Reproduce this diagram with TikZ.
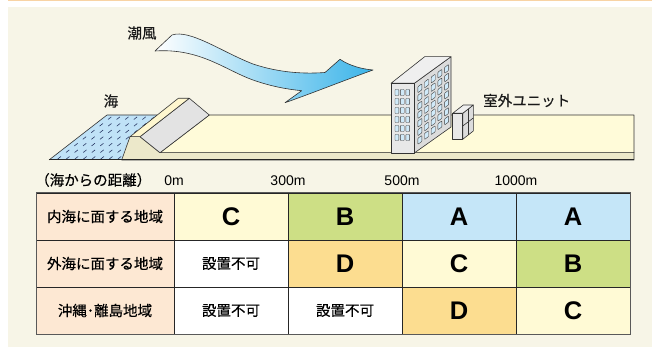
\documentclass[tikz,border=0pt]{standalone}
\usepackage{fontspec}
\setmainfont{Liberation Sans}
\newfontfamily\cjk{Noto Sans CJK JP}[FakeBold=0.35]
\usetikzlibrary{positioning}

\definecolor{bgbeige}{HTML}{F7F5E7}
\definecolor{topline}{HTML}{F8D3A4}
\definecolor{seablue}{HTML}{C0E2F7}
\definecolor{seadash}{HTML}{2B3A66}
\definecolor{sandtop}{HTML}{FFFBD9}
\definecolor{sandfront}{HTML}{ECE8CA}
\definecolor{ridgetop}{HTML}{FFF7CF}
\definecolor{slopegrey}{HTML}{E3E3E3}
\definecolor{bldfront}{HTML}{E8E8E8}
\definecolor{bldside}{HTML}{DCDCDC}
\definecolor{bldtop}{HTML}{EFEFEF}
\definecolor{winblue}{HTML}{D0EAF9}
\definecolor{windblue}{HTML}{3BB4E9}
\definecolor{areapeach}{HTML}{FDE8D3}
\definecolor{gradeA}{HTML}{C5E6F8}
\definecolor{gradeB}{HTML}{CDDF85}
\definecolor{gradeC}{HTML}{FFFAD5}
\definecolor{gradeD}{HTML}{FCDD90}

\newcommand{\jpfont}{\cjk\fontsize{14.5}{17}\selectfont}
\newcommand{\gradefont}{\bfseries\fontsize{25.5}{28}\selectfont}

\begin{document}
\begin{tikzpicture}[x=1pt, y=-1pt,
    edgeline/.style={draw=black!80, line width=0.6pt, line join=round},
    window/.style={draw=black!75, line width=0.4pt, fill=winblue, rounded corners=0.6pt},
    jptext/.style={inner sep=0pt, font=\jpfont, text=black!90},
    cell/.style={rectangle, draw=black!85, line width=0.7pt, minimum width=114pt, minimum height=47pt, inner sep=0pt, outer sep=0pt},
    area/.style={cell, fill=areapeach, minimum width=138pt, font=\jpfont},
    grade/.style={cell, font=\gradefont},
    nogo/.style={cell, fill=white, font=\jpfont},
    dist/.style={anchor=base, yshift=7.5pt, inner sep=0pt, font=\fontsize{14}{16}\selectfont}
]
\useasboundingbox (0,0) rectangle (652,347);

% panel
\fill[bgbeige] (8,7) rectangle (652,347);
\fill[topline] (8,0) rectangle (652,1.4);

% sea
\fill[seablue] (49,160) -- (107,115) -- (157.3,115) -- (130,136.7) -- (121.7,160) -- cycle;
\begin{scope}
  \clip (50,159) -- (107.5,116) -- (156,116) -- (129.5,137) -- (121,159) -- cycle;
  \foreach \row in {0,...,6}
    \foreach \col in {0,...,9}
      \draw[seadash, line width=0.6pt] ({108+8.6*\col-8.4*\row},{119.5+6.6*\row}) -- +(3.3,-2.6);
\end{scope}
\draw[edgeline] (49,160) -- (107,115) -- (157.3,115);

% ground and dike
\filldraw[edgeline, fill=sandfront] (121.7,160) -- (130,136.7) -- (140,136.7) -- (160,152.7) -- (634,152.7) -- (634,160) -- cycle;
\filldraw[edgeline, fill=sandtop] (160,152.7) -- (209.3,115) -- (634,115) -- (634,152.7) -- cycle;
\filldraw[edgeline, fill=slopegrey] (140,136.7) -- (189.3,98.3) -- (209.3,115) -- (160,152.7) -- cycle;
\filldraw[edgeline, fill=ridgetop] (130,136.7) -- (178.3,98.3) -- (189.3,98.3) -- (140,136.7) -- cycle;
\draw[black!85, line width=1pt] (49,160) -- (634,160);

% building
\filldraw[edgeline, fill=bldside] (414.3,83.3) -- (451,56.7) -- (451,127) -- (414.3,153) -- cycle;
\filldraw[edgeline, fill=bldtop] (391,83.3) -- (424.7,56.7) -- (451,56.7) -- (414.3,83.3) -- cycle;
\filldraw[edgeline, fill=bldfront] (391,83.3) rectangle (414.3,153);
\foreach \col in {0,1,2}
  \foreach \row in {0,...,5}
    \filldraw[window] ({395+5.4*\col},{89.5+9*\row}) rectangle +(3.8,6);
\begin{scope}[shift={(414.3,83.3)}, yslant=0.725]
  \foreach \col in {0,...,4}
    \foreach \row in {0,...,6}
      \filldraw[window] ({3.5+6.7*\col},{6+8.6*\row}) rectangle +(4,6);
\end{scope}

% outdoor unit
\filldraw[edgeline, fill=bldside] (462.7,113.3) -- (473.3,105) -- (473.3,131) -- (462.7,139.3) -- cycle;
\filldraw[edgeline, fill=bldtop] (452.7,113.3) -- (463.3,105) -- (473.3,105) -- (462.7,113.3) -- cycle;
\filldraw[edgeline, fill=bldfront] (452.7,113.3) rectangle (462.7,139.3);
\draw[edgeline] (468,109) -- (468,135.1);
\draw[edgeline] (462.7,126) -- (473.3,118);

% sea breeze
\shadedraw[edgeline, left color=white, right color=windblue]
  (155,51) -- (172,35) .. controls (190,29) and (222,52) .. (253,64)
  .. controls (280,73) and (305,74) .. (325,72.5) -- (340,59.3)
  .. controls (350,66) and (362,69) .. (373,70)
  .. controls (340,82) and (310,94) .. (285,102.7) -- (301.7,90.7)
  .. controls (285,89) and (270,86) .. (253,80)
  .. controls (225,70) and (200,48) .. (155,51) -- cycle;

\node[jptext] (wind) at (142,33) {潮風};
\node[jptext] (sea) at (111,101) {海};
\node[jptext, anchor=west] (unit) at (483,100.5) {室外ユニット};

% grade table
\node[area] (inland) at (105,216.5) {内海に面する地域};
\node[grade, fill=gradeC, right=0pt of inland] (inland1) {C};
\node[grade, fill=gradeB, right=0pt of inland1] (inland2) {B};
\node[grade, fill=gradeA, right=0pt of inland2] (inland3) {A};
\node[grade, fill=gradeA, right=0pt of inland3] (inland4) {A};

\node[area, below=0pt of inland] (outer) {外海に面する地域};
\node[nogo, right=0pt of outer] (outer1) {設置不可};
\node[grade, fill=gradeD, right=0pt of outer1] (outer2) {D};
\node[grade, fill=gradeC, right=0pt of outer2] (outer3) {C};
\node[grade, fill=gradeB, right=0pt of outer3] (outer4) {B};

\node[area, below=0pt of outer] (island) {沖縄･離島地域};
\node[nogo, right=0pt of island] (island1) {設置不可};
\node[nogo, right=0pt of island1] (island2) {設置不可};
\node[grade, fill=gradeD, right=0pt of island2] (island3) {D};
\node[grade, fill=gradeC, right=0pt of island3] (island4) {C};

\draw[black!65, line width=1pt] (inland.north west) rectangle (island4.south east);

% distance from the sea
\node[dist, anchor=base west, font=\jpfont] at ([xshift=-1pt]inland.north west) {（海からの距離）};
\node[dist] at (inland1.north west) {0m};
\node[dist] at (inland2.north west) {300m};
\node[dist] at (inland3.north west) {500m};
\node[dist] at (inland4.north west) {1000m};

\end{tikzpicture}
\end{document}
